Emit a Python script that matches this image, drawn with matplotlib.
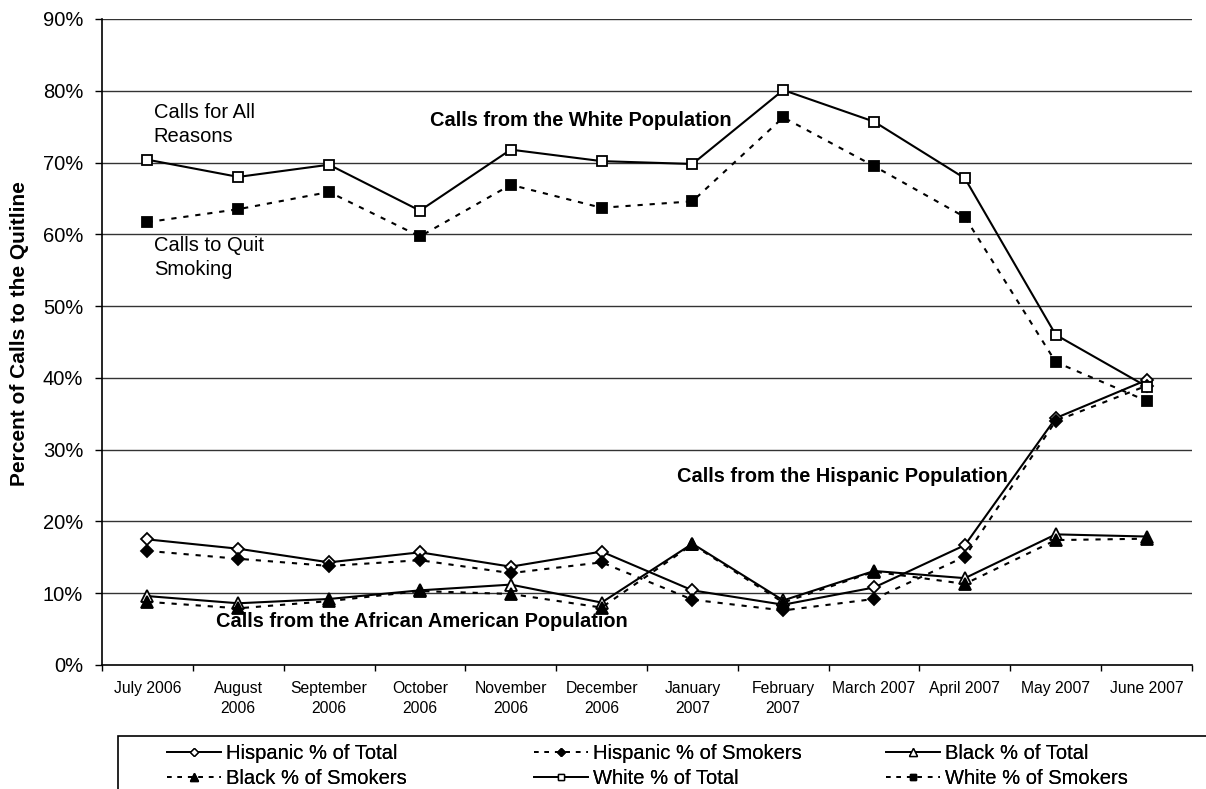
#-------------------------------------------------------------------------
#
#   ligações para a Quitline por população (jul/2006 a jun/2007)
#
#-------------------------------------------------------------------------
import matplotlib
matplotlib.use("Agg")
import matplotlib.pyplot as plt
from matplotlib.lines import Line2D
from matplotlib.patches import Rectangle

# meses (rótulos do eixo x)
meses = ["July 2006", "August\n2006", "September\n2006", "October\n2006",
         "November\n2006", "December\n2006", "January\n2007", "February\n2007",
         "March 2007", "April 2007", "May 2007", "June 2007"]

# percentuais de ligações (%)
hisp_total = [17.5, 16.2, 14.3, 15.7, 13.7, 15.8, 10.4, 8.4, 10.8, 16.7, 34.4, 39.7]
hisp_fum = [15.9, 14.8, 13.8, 14.6, 12.8, 14.3, 9.1, 7.6, 9.2, 15.1, 34.0, 38.9]
negro_total = [9.6, 8.6, 9.2, 10.4, 11.2, 8.7, 16.9, 9.0, 13.1, 12.1, 18.2, 17.9]
negro_fum = [8.8, 7.9, 8.9, 10.3, 9.9, 8.0, 16.8, 8.7, 13.0, 11.3, 17.4, 17.6]
branco_total = [70.4, 68.0, 69.7, 63.3, 71.8, 70.2, 69.8, 80.1, 75.7, 67.8, 46.0, 38.8]
branco_fum = [61.7, 63.5, 65.9, 59.7, 66.9, 63.7, 64.6, 76.3, 69.5, 62.4, 42.2, 36.8]

nomes = ["Hispanic % of Total", "Hispanic % of Smokers", "Black % of Total",
         "Black % of Smokers", "White % of Total", "White % of Smokers"]

plt.rcParams['font.family'] = ['Liberation Sans', 'DejaVu Sans']

fig = plt.figure(figsize=(12.06, 7.89), dpi=100)
ax = fig.add_axes([102/1206, 1-665/789, 1090/1206, 646/789])

x = list(range(len(meses)))
pontilhado = (0, (2.5, 3.3))

# estilo de cada série: (dados, linha, marcador, preenchimento, tamanho)
series = [
    (hisp_total, '-', 'D', 'white', 6),
    (hisp_fum, pontilhado, 'D', 'black', 6),
    (negro_total, '-', '^', 'white', 8),
    (negro_fum, pontilhado, '^', 'black', 8),
    (branco_total, '-', 's', 'white', 6.5),
    (branco_fum, pontilhado, 's', 'black', 6.5),
]

handles = []
for i, (dados, ls, mk, cor, ms) in enumerate(series):
    ax.plot(x, dados, color='black', linestyle=ls, lw=1.5, marker=mk,
            markersize=ms, markerfacecolor=cor, markeredgecolor='black',
            markeredgewidth=1.3, zorder=3+i)
    handles.append(Line2D([], [], color='black', linestyle=ls, lw=1.3, marker=mk,
                          markersize=ms*0.75, markerfacecolor=cor,
                          markeredgecolor='black', markeredgewidth=1.0))

ax.set_xlim(-0.5, 11.5)
ax.set_ylim(0, 90)
ax.set_yticks(range(0, 91, 10))
ax.set_yticklabels([f"{v}%" for v in range(0, 91, 10)], fontsize=14.5)
for v in range(10, 91, 10):
    ax.axhline(v, color='#333333', lw=1, zorder=1)

ax.set_xticks(x)
ax.set_xticklabels(meses, fontsize=11.3, linespacing=1.45)
ax.set_xticks([v - 0.5 for v in range(13)], minor=True)
ax.tick_params(axis='x', which='major', length=0, pad=11.5)
ax.tick_params(axis='x', which='minor', length=4, direction='out', width=1)
ax.tick_params(axis='y', length=5, direction='out', width=1, pad=8.5)

ax.spines['top'].set_visible(False)
ax.spines['right'].set_visible(False)
for s in ['left', 'bottom']:
    ax.spines[s].set_linewidth(1.2)

# textos explicativos
ax.text(0.07, 75.3, "Calls for All\nReasons", fontsize=14.5, va='center', ha='left', linespacing=1.3)
ax.text(0.07, 56.8, "Calls to Quit\nSmoking", fontsize=14.5, va='center', ha='left', linespacing=1.3)
ax.text(3.11, 75.9, "Calls from the White Population", fontsize=14.4, weight='bold', va='center')
ax.text(5.83, 26.2, "Calls from the Hispanic Population", fontsize=14.4, weight='bold', va='center')
ax.text(0.755, 6.1, "Calls from the African American Population", fontsize=14.4, weight='bold', va='center')

fig.text(20/1206, 1-334/789, "Percent of Calls to the Quitline", rotation=90,
         fontsize=15, weight='bold', ha='center', va='center')

# legenda em 3 colunas dentro de uma caixa
fig.add_artist(Rectangle((118/1206, -0.5), 1.5, 0.5 + 1-736/789, transform=fig.transFigure,
                         facecolor='none', edgecolor='black', lw=1.2))
colunas_x = [165/1206, 532/1206, 884/1206]
for c in range(3):
    idx = [c, c+3]
    leg = fig.legend([handles[k] for k in idx], [nomes[k] for k in idx],
                     loc='upper left', bbox_to_anchor=(colunas_x[c], 1-742/789),
                     frameon=False, fontsize=14.5, handlelength=2.7,
                     handletextpad=0.25, labelspacing=0.3, borderpad=0.1,
                     borderaxespad=0)
    fig.add_artist(leg)

fig.savefig("out.png", dpi=100)
